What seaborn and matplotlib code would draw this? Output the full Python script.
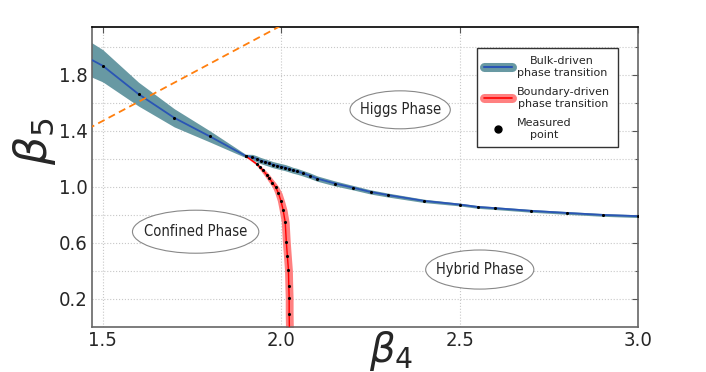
import numpy as np
import pandas as pd
import matplotlib
matplotlib.use("Agg")
import matplotlib.pyplot as plt
from matplotlib import font_manager
from matplotlib.lines import Line2D
from matplotlib.patches import Ellipse
from matplotlib.ticker import FixedLocator
import seaborn as sns

# bulk-driven transition (beta4, beta5, half-width of band)
bulk_x = [1.40, 1.50, 1.60, 1.70, 1.80, 1.90, 1.919, 1.931, 1.942, 1.953, 1.965,
          1.976, 1.987, 1.998, 2.010, 2.021, 2.032, 2.043, 2.060, 2.079, 2.101,
          2.151, 2.200, 2.250, 2.300, 2.400, 2.500, 2.550, 2.600, 2.700, 2.800,
          2.900, 3.000]
bulk_y = [2.00, 1.864, 1.662, 1.493, 1.360, 1.221, 1.212, 1.200, 1.188, 1.179, 1.169,
          1.159, 1.152, 1.145, 1.138, 1.129, 1.119, 1.112, 1.098, 1.081, 1.059,
          1.024, 0.995, 0.964, 0.941, 0.900, 0.874, 0.857, 0.848, 0.829, 0.814,
          0.800, 0.791]
bulk_err = [0.14, 0.115, 0.085, 0.065, 0.04, 0.012, 0.02, 0.022, 0.022, 0.022, 0.022,
            0.022, 0.022, 0.022, 0.022, 0.022, 0.021, 0.021, 0.02, 0.02, 0.019,
            0.018, 0.016, 0.015, 0.014, 0.012, 0.01, 0.01, 0.01, 0.01, 0.01,
            0.01, 0.01]

# boundary-driven transition
red_x = [1.900, 1.931, 1.940, 1.949, 1.959, 1.966, 1.975, 1.984, 1.992, 1.999,
         2.005, 2.011, 2.014, 2.017, 2.020, 2.021, 2.022, 2.022, 2.023]
red_y = [1.221, 1.164, 1.141, 1.117, 1.086, 1.062, 1.031, 0.998, 0.955, 0.900,
         0.836, 0.748, 0.609, 0.507, 0.407, 0.295, 0.209, 0.093, -0.05]
red_err = [0.004, 0.005, 0.006, 0.007, 0.008, 0.008, 0.009, 0.009, 0.01, 0.01,
           0.011, 0.011, 0.011, 0.011, 0.011, 0.011, 0.011, 0.011, 0.011]

# guide line (dashed)
guide_x = [1.40, 2.05]
guide_y = [1.335, 2.22]

phases = ["Higgs Phase", "Confined Phase", "Hybrid Phase"]
phase_x = [2.333, 1.76, 2.556]
phase_y = [1.55, 0.68, 0.41]

sns.set_style("whitegrid")
plt.rcParams['font.family'] = ['DejaVu Sans']
plt.rcParams['mathtext.fontset'] = 'dejavusans'


def narrow(size):
    return font_manager.FontProperties(family='DejaVu Sans', stretch='condensed', size=size)


band_blue = '#6899a3'
line_blue = '#2a55b5'

fig = plt.figure(figsize=(7.06, 3.72), dpi=100)
ax = fig.add_axes([0.130, 0.121, 0.774, 0.806])

bulk = pd.DataFrame({'b4': bulk_x, 'b5': bulk_y, 'err': bulk_err})
red = pd.DataFrame({'b4': red_x, 'b5': red_y, 'err': red_err})

ax.fill_between(bulk['b4'], bulk['b5'] - bulk['err'], bulk['b5'] + bulk['err'],
                color=band_blue, lw=0, zorder=2)
ax.fill_betweenx(red['b5'], red['b4'] - red['err'], red['b4'] + red['err'],
                 color='#ff8080', lw=0, zorder=2)
sns.lineplot(data=bulk, x='b4', y='b5', ax=ax, color=line_blue, lw=1.3,
             estimator=None, sort=False, zorder=3)
sns.lineplot(data=red, x='b4', y='b5', ax=ax, color='red', lw=1.0,
             estimator=None, sort=False, zorder=3)
sns.lineplot(x=guide_x, y=guide_y, ax=ax, color='#ff7f0e', lw=1.3,
             linestyle=(0, (4, 2.5)), estimator=None, zorder=3)
sns.scatterplot(data=bulk, x='b4', y='b5', ax=ax, color='black', s=5,
                linewidth=0, zorder=4)
sns.scatterplot(data=red, x='b4', y='b5', ax=ax, color='black', s=5,
                linewidth=0, zorder=4)

# phase labels in ellipses (width, height in data units)
ell_size = [(0.281, 0.271), (0.354, 0.307), (0.303, 0.279)]
for name, px, py, (w, h) in zip(phases, phase_x, phase_y, ell_size):
    ax.add_patch(Ellipse((px, py), w, h, fc='white', ec='#888888', lw=0.8, zorder=5))
    ax.text(px, py, name, ha='center', va='center', fontproperties=narrow(10.5),
            zorder=6)

ax.set_xlim(1.469, 3.0)
ax.set_ylim(0.0, 2.14)
ax.xaxis.set_major_locator(FixedLocator([1.5, 2.0, 2.5, 3.0]))
ax.yaxis.set_major_locator(FixedLocator([0.2, 0.6, 1.0, 1.4, 1.8]))
ax.yaxis.set_minor_locator(FixedLocator([0.4, 0.8, 1.2, 1.6, 2.0]))
ax.set_xticklabels(['1.5', '2.0', '2.5', '3.0'])
ax.set_yticklabels(['0.2', '0.6', '1.0', '1.4', '1.8'])
for t in ax.get_xticklabels() + ax.get_yticklabels():
    t.set_fontproperties(narrow(14.5))
ax.grid(True, which='both', color='#c8c8c8', linestyle=':', lw=0.8)
ax.set_axisbelow(True)
ax.tick_params(which='both', direction='in', length=4, width=0.8, color='#555555',
               top=True, right=True, pad=3)
ax.tick_params(which='minor', length=2)
for s in ax.spines.values():
    s.set_color('#666666')
    s.set_linewidth(1.2)
ax.spines['top'].set_color('black')

ax.set_xlabel(r'$\beta_4$', fontsize=29)
ax.xaxis.set_label_coords(0.548, -0.008)
ax.set_ylabel(r'$\beta_5$', fontsize=32, va='center')
ax.yaxis.set_label_coords(-0.105, 0.62)

h_bulk = (Line2D([], [], color=band_blue, lw=6.5), Line2D([], [], color=line_blue, lw=1.5))
h_red = (Line2D([], [], color='#ff8080', lw=6.5), Line2D([], [], color='red', lw=1.2))
h_pt = Line2D([], [], color='black', marker='o', ms=5, lw=0)
leg = ax.legend([h_bulk, h_red, h_pt],
                ['Bulk-driven\nphase transition', 'Boundary-driven\nphase transition',
                 'Measured\npoint'],
                loc='upper right', bbox_to_anchor=(0.963, 0.93), borderaxespad=0,
                fancybox=False, framealpha=1, edgecolor='#333333',
                handlelength=2.5, labelspacing=0.85, borderpad=0.7,
                handletextpad=0.45, prop={'size': 8})
for t in leg.get_texts():
    t.set_ha('center')
    t.set_multialignment('center')

fig.savefig('out.png', dpi=100)
